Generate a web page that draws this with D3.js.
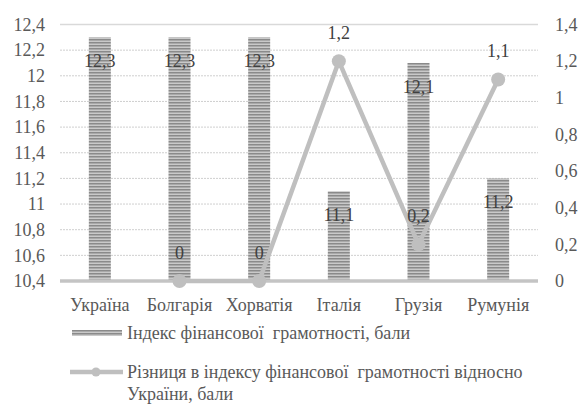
<!DOCTYPE html>
<html>
<head>
<meta charset="utf-8">
<script src="https://d3js.org/d3.v7.min.js"></script>
</head>
<body style="margin:0; background:#fff">
<div id="chart"></div>
<script>
// data
var countries = ["Україна", "Болгарія", "Хорватія", "Італія", "Грузія", "Румунія"];
var indexValues = [12.3, 12.3, 12.3, 11.1, 12.1, 11.2];
var diffValues = [null, 0, 0, 1.2, 0.2, 1.1];
var leftTicks = [10.4, 10.6, 10.8, 11, 11.2, 11.4, 11.6, 11.8, 12, 12.2, 12.4];
var rightTicks = [0, 0.2, 0.4, 0.6, 0.8, 1, 1.2, 1.4];
var barLegend = "Індекс фінансової  грамотності, бали";
var lineLegend = ["Різниця в індексу фінансової  грамотності відносно", "України, бали"];

var W = 579, H = 404;
var plot = {left: 60, right: 538, top: 24.5, bottom: 281};
var fmt = function(v) { return String(v).replace(".", ","); };

// every text gets the serif face and grey colour
function serif(sel, color) {
  sel.attr("font-family", null)
    .style("font-family", "serif")
    .style("font-size", "18px")
    .style("fill", color || "#595959");
  return sel;
}

var svg = d3.select("#chart").append("svg")
  .attr("width", W).attr("height", H);

// striped fill for bars
var defs = svg.append("defs");
var pat = defs.append("pattern")
  .attr("id", "stripes")
  .attr("patternUnits", "userSpaceOnUse")
  .attr("width", 6).attr("height", 3);
pat.append("rect").attr("width", 6).attr("height", 3).attr("fill", "#c9c9c9");
pat.append("rect").attr("width", 6).attr("height", 1.5).attr("fill", "#8a8a8a");

var x = d3.scaleBand().domain(countries).range([plot.left, plot.right]);
var yL = d3.scaleLinear().domain([10.4, 12.4]).range([plot.bottom, plot.top]);
var yR = d3.scaleLinear().domain([0, 1.4]).range([plot.bottom, plot.top]);

// gridlines
svg.append("g").selectAll("line")
  .data(leftTicks.slice(1))
  .enter().append("line")
  .attr("x1", plot.left).attr("x2", plot.right)
  .attr("y1", function(d) { return yL(d); })
  .attr("y2", function(d) { return yL(d); })
  .attr("stroke", function(d) { return d === 12.4 ? "#d9d9d9" : "#cfcfcf"; })
  .attr("stroke-width", function(d) { return d === 12.4 ? 1.5 : 1; })
  .attr("stroke-dasharray", function(d) { return d === 12.4 ? null : "2,1"; });

// left axis
var leftAxis = svg.append("g")
  .attr("transform", "translate(" + (plot.left - 15) + ",0)")
  .call(d3.axisLeft(yL).tickValues(leftTicks).tickSize(0).tickPadding(0).tickFormat(fmt));
leftAxis.select(".domain").remove();
leftAxis.attr("font-family", null);
serif(leftAxis.selectAll("text"));

// right axis
var rightAxis = svg.append("g")
  .attr("transform", "translate(" + (plot.right + 17) + ",0)")
  .call(d3.axisRight(yR).tickValues(rightTicks).tickSize(0).tickPadding(0).tickFormat(fmt));
rightAxis.select(".domain").remove();
rightAxis.attr("font-family", null);
serif(rightAxis.selectAll("text"));

// bars
var barW = 22;
svg.append("g").selectAll("rect")
  .data(indexValues)
  .enter().append("rect")
  .attr("x", function(d, i) { return x(countries[i]) + x.bandwidth() / 2 - barW / 2; })
  .attr("y", function(d) { return yL(d); })
  .attr("width", barW)
  .attr("height", function(d) { return plot.bottom - yL(d); })
  .attr("fill", "url(#stripes)");

// category axis line
svg.append("line")
  .attr("x1", plot.left).attr("x2", plot.right)
  .attr("y1", plot.bottom).attr("y2", plot.bottom)
  .attr("stroke", "#c4c4c4").attr("stroke-width", 3.5);

// category labels
serif(svg.append("g").selectAll("text")
  .data(countries)
  .enter().append("text")
  .attr("x", function(d) { return x(d) + x.bandwidth() / 2; })
  .attr("y", 311)
  .attr("text-anchor", "middle")
  .text(function(d) { return d; }));

// line series
var pts = diffValues.map(function(v, i) { return {c: countries[i], v: v}; })
  .filter(function(d) { return d.v !== null; });
var line = d3.line()
  .x(function(d) { return x(d.c) + x.bandwidth() / 2; })
  .y(function(d) { return yR(d.v); });
svg.append("path")
  .datum(pts)
  .attr("d", line)
  .attr("fill", "none")
  .attr("stroke", "#bfbfbf")
  .attr("stroke-width", 4.5)
  .attr("stroke-linejoin", "round");
svg.append("g").selectAll("circle")
  .data(pts)
  .enter().append("circle")
  .attr("cx", function(d) { return x(d.c) + x.bandwidth() / 2; })
  .attr("cy", function(d) { return yR(d.v); })
  .attr("r", 7)
  .attr("fill", "#bfbfbf");

// bar labels
serif(svg.append("g").selectAll("text")
  .data(indexValues)
  .enter().append("text")
  .attr("x", function(d, i) { return x(countries[i]) + x.bandwidth() / 2; })
  .attr("y", function(d) { return yL(d) + 30; })
  .attr("text-anchor", "middle")
  .text(fmt), "#404040");

// line labels
serif(svg.append("g").selectAll("text")
  .data(pts)
  .enter().append("text")
  .attr("x", function(d) { return x(d.c) + x.bandwidth() / 2; })
  .attr("y", function(d) { return yR(d.v) - 22; })
  .attr("text-anchor", "middle")
  .text(function(d) { return fmt(d.v); }), "#404040");

// legend
svg.append("rect")
  .attr("x", 72).attr("y", 330).attr("width", 50).attr("height", 6)
  .attr("fill", "url(#stripes)");
serif(svg.append("text")
  .attr("x", 127).attr("y", 339)
  .style("white-space", "pre")
  .text(barLegend));

svg.append("line")
  .attr("x1", 70).attr("x2", 123).attr("y1", 372).attr("y2", 372)
  .attr("stroke", "#bfbfbf").attr("stroke-width", 4.5);
svg.append("circle")
  .attr("cx", 96).attr("cy", 372).attr("r", 4.5).attr("fill", "#bfbfbf");
serif(svg.append("text")
  .attr("x", 127).attr("y", 378)
  .style("white-space", "pre")
  .text(lineLegend[0]));
serif(svg.append("text")
  .attr("x", 127).attr("y", 400)
  .text(lineLegend[1]));
</script>
</body>
</html>
